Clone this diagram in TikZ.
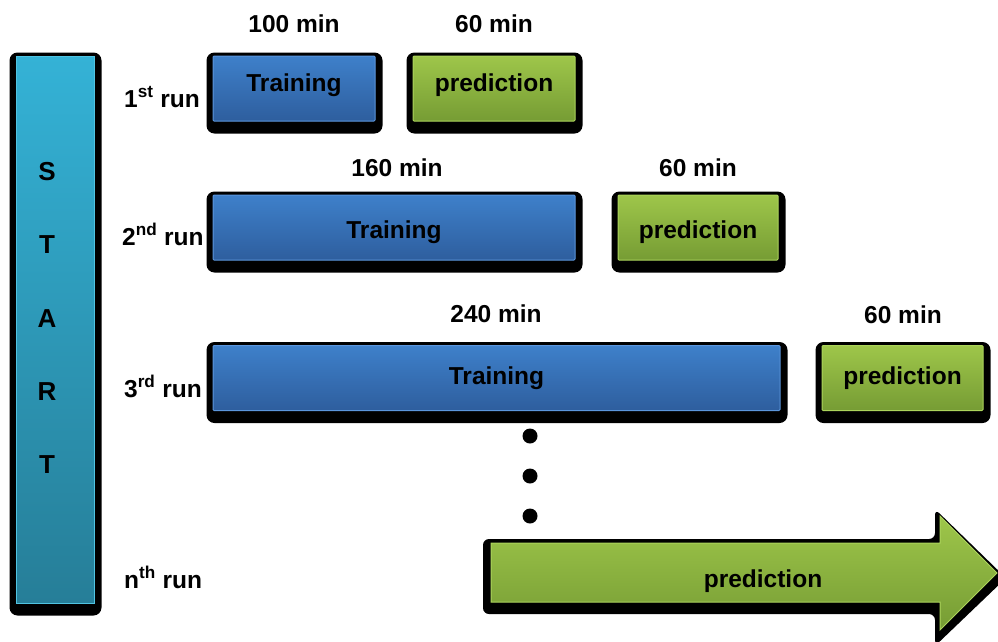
\documentclass[tikz,border=0pt]{standalone}
\usepackage{fontspec}
\setmainfont{Liberation Sans}
\usetikzlibrary{backgrounds}
\definecolor{bluetop}{RGB}{62,128,202}
\definecolor{bluebot}{RGB}{46,94,158}
\definecolor{blueedge}{RGB}{92,150,220}
\definecolor{greentop}{RGB}{158,198,74}
\definecolor{greenbot}{RGB}{118,156,52}
\definecolor{greenedge}{RGB}{172,212,92}
\definecolor{cyantop}{RGB}{52,178,214}
\definecolor{cyanbot}{RGB}{38,126,152}
\definecolor{cyanedge}{RGB}{80,196,226}
\newcommand\bfs{\fontsize{24.5}{29}\selectfont\bfseries}
\newcommand\shadowof[1]{%
  \begin{pgfonlayer}{background}
    \fill[black, rounded corners=8pt] ([xshift=-6pt,yshift=3pt]#1.north west) rectangle ([xshift=7pt,yshift=-12pt]#1.south east);
  \end{pgfonlayer}}
\tikzset{
  basebox/.style={shade, line width=1pt, inner sep=0pt, minimum height=65pt,
    text depth=6pt, font=\bfs, rounded corners=1pt},
  tbox/.style={basebox, top color=bluetop, bottom color=bluebot, draw=blueedge},
  pbox/.style={basebox, top color=greentop, bottom color=greenbot, draw=greenedge},
  th/.style={text height=#1},
  lbl/.style={font=\bfs, inner sep=0pt, anchor=base},
  runlbl/.style={font=\bfs, inner sep=0pt, anchor=base west},
  dotnode/.style={circle, fill=black, minimum size=15pt, inner sep=0pt},
}
\begin{document}
\begin{tikzpicture}[x=1pt, y=-1pt]
\useasboundingbox (0,0) rectangle (998,641);

% START bar
\node[shade, top color=cyantop, bottom color=cyanbot, draw=cyanedge, line width=1pt,
  minimum width=78pt, minimum height=547pt, inner sep=0pt] (start) at (55,329.5) {};
\shadowof{start}
\node[font=\fontsize{26}{73.2}\selectfont\bfseries, align=center, inner sep=0pt] (starttext) at (47,318) {S\\T\\A\\R\\T};

% run 1
\node[tbox, th=12.3pt, minimum width=162pt] (t1) at (294,88.5) {Training};
\shadowof{t1}
\node[pbox, th=12.3pt, minimum width=162pt] (p1) at (494,88.5) {prediction};
\shadowof{p1}
\node[lbl] (m1) at (294,32) {100 min};
\node[lbl] (n1) at (494,32) {60 min};
\node[runlbl] (r1) at (124,107) {1\textsuperscript{st} run};

% run 2
\node[tbox, th=28.5pt, minimum width=362pt] (t2) at (394,227.5) {Training};
\shadowof{t2}
\node[pbox, th=28.5pt, minimum width=160pt] (p2) at (698,227.5) {prediction};
\shadowof{p2}
\node[lbl] (m2) at (397,176) {160 min};
\node[lbl] (n2) at (698,176) {60 min};
\node[runlbl] (r2) at (122,245) {2\textsuperscript{nd} run};

% run 3
\node[tbox, th=19.5pt, minimum width=567pt] (t3) at (496.5,378) {Training};
\shadowof{t3}
\node[pbox, th=19.5pt, minimum width=161pt] (p3) at (902.5,378) {prediction};
\shadowof{p3}
\node[lbl] (m3) at (496,322) {240 min};
\node[lbl] (n3) at (903,323) {60 min};
\node[runlbl] (r3) at (124,397) {3\textsuperscript{rd} run};

% dots
\node[dotnode] (d1) at (530,436) {};
\node[dotnode] (d2) at (530,476) {};
\node[dotnode] (d3) at (530,516) {};

% nth run arrow
\fill[black, rounded corners=6pt] (483,539) -- (935,539) -- (935,509) -- (1006,578) -- (935,646) -- (935,614) -- (483,614) -- cycle;
\shade[top color=greentop, bottom color=greenbot, draw=greenedge, line width=1pt]
  (491,543) -- (940,543) -- (940,516) -- (997,573) -- (940,630) -- (940,602) -- (491,602) -- cycle;
\node[lbl] (pn) at (763,587) {prediction};
\node[runlbl] (rn) at (124,588) {n\textsuperscript{th} run};
\end{tikzpicture}
\end{document}
